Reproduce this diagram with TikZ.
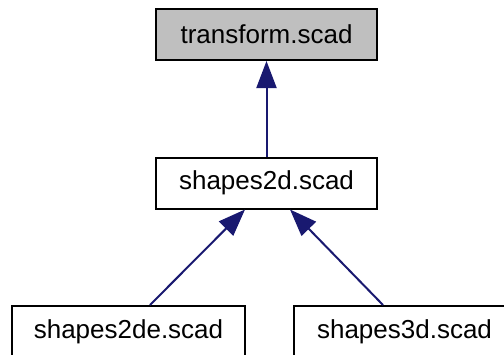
\documentclass[tikz,border=0pt]{standalone}
\usepackage{fontspec}
\setmainfont{Liberation Sans}
\usetikzlibrary{arrows.meta}
\definecolor{edgeblue}{HTML}{191970}
\definecolor{boxgray}{HTML}{BFBFBF}
\tikzset{
  filebox/.style={draw=black, line width=2pt, minimum width=221pt, minimum height=51pt,
    inner sep=0pt, font=\fontsize{26}{30}\selectfont},
  dep/.style={draw=edgeblue, line width=2pt, -{Triangle[length=27pt,width=20pt]}, edgeblue}
}
\begin{document}
\begin{tikzpicture}[x=1pt,y=-1pt]
\useasboundingbox (0,0) rectangle (504,354);
\node[filebox, fill=boxgray] (top) at (266.5,34.5) {transform.scad};
\node[filebox] (mid) at (266.5,183) {shapes2d.scad};
\node[filebox, minimum width=233pt] (bl) at (128.5,331.5) {shapes2de.scad};
\node[filebox] (br) at (404.5,331.5) {shapes3d.scad};
\draw[dep] (mid.north) -- (top.south);
\draw[dep] ([xshift=21.5pt]bl.north) -- ([xshift=-21.5pt]mid.south);
\draw[dep] ([xshift=-21.5pt]br.north) -- ([xshift=23.5pt]mid.south);
\end{tikzpicture}
\end{document}
